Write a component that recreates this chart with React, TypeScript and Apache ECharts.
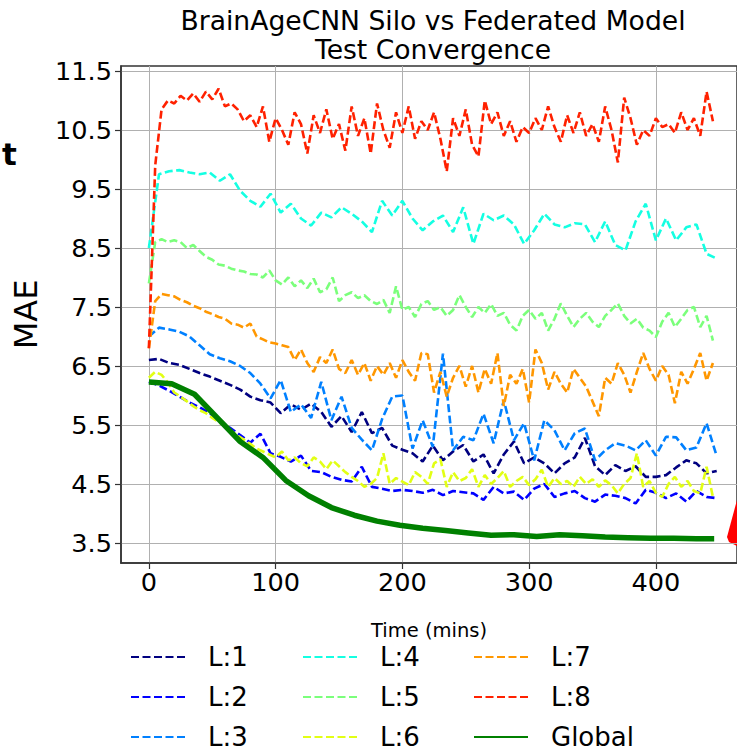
import React, { useEffect, useRef } from "react";
import * as echarts from "echarts";

const TITLE = "BrainAgeCNN Silo vs Federated Model\nTest Convergence";
const X_NAME = "Time (mins)";
const Y_NAME = "MAE";
const X_TICKS = [0, 100, 200, 300, 400];
const Y_TICKS = [3.5, 4.5, 5.5, 6.5, 7.5, 8.5, 9.5, 10.5, 11.5];

// sampling times (minutes)
const T5 = Array.from({ length: 90 }, (_, i) => i * 5);
const T8 = Array.from({ length: 57 }, (_, i) => i * 8);

const L1 = [6.6, 6.62, 6.55, 6.52, 6.45, 6.38, 6.32, 6.25, 6.18, 6.1,
  5.98, 5.92, 5.88, 5.7, 5.85, 5.76, 5.86, 5.72, 5.47, 5.65,
  5.38, 5.72, 5.36, 5.45, 5.15, 5.08, 5.02, 4.88, 5.15, 4.9,
  5.05, 5.16, 4.88, 5.0, 4.68, 5.0, 5.22, 4.85, 4.95, 4.85,
  4.68, 4.85, 4.95, 5.28, 4.8, 4.65, 4.82, 4.72, 4.8, 4.62,
  4.62, 4.65, 4.78, 4.9, 4.85, 4.68, 4.72];

const L2 = [6.23, 6.17, 6.08, 5.98, 5.88, 5.8, 5.7, 5.57, 5.45, 5.33,
  5.2, 5.35, 5.02, 4.96, 4.88, 4.98, 4.72, 4.7, 4.62, 4.57,
  4.54, 4.79, 4.45, 4.42, 4.38, 4.4, 4.38, 4.35, 4.4, 4.31,
  4.38, 4.36, 4.34, 4.23, 4.45, 4.34, 4.37, 4.23, 4.42, 4.5,
  4.28, 4.34, 4.38, 4.26, 4.2, 4.32, 4.3, 4.26, 4.17, 4.4,
  4.35, 4.26, 4.34, 4.2, 4.38, 4.28, 4.26];

const L3 = [7.0, 7.15, 7.12, 7.08, 7.0, 6.85, 6.7, 6.63, 6.58, 6.5,
  6.38, 6.2, 5.95, 6.26, 5.72, 5.85, 5.62, 6.23, 5.58, 5.98,
  5.45, 5.25, 5.07, 5.6, 5.98, 6.0, 5.1, 5.58, 5.13, 6.71,
  5.07, 5.3, 5.24, 5.69, 5.19, 5.92, 5.24, 5.53, 4.9, 5.58,
  5.41, 5.07, 5.36, 5.44, 4.9, 5.07, 5.19, 5.15, 5.07, 5.24,
  4.98, 5.3, 5.29, 5.07, 5.12, 5.53, 4.97];

const L4 = [8.5, 9.75, 9.8, 9.82, 9.78, 9.75, 9.78, 9.64, 9.75, 9.47,
  9.3, 9.2, 9.42, 9.1, 9.25, 9.0, 8.88, 9.1, 9.02, 9.19,
  9.08, 8.95, 8.77, 9.3, 9.05, 9.3, 9.0, 8.8, 8.95, 9.05,
  8.77, 9.19, 8.57, 9.08, 8.97, 9.05, 8.9, 8.57, 8.8, 9.08,
  8.9, 8.85, 8.92, 8.9, 8.6, 8.95, 8.55, 8.46, 8.95, 9.25,
  8.63, 9.0, 8.63, 8.85, 8.9, 8.4, 8.32];

const L5 = [7.9, 8.6, 8.65, 8.6, 8.63, 8.6, 8.5, 8.55, 8.45, 8.35,
  8.3, 8.22, 8.2, 8.15, 8.12, 8.1, 8.06, 8.05, 8.0, 8.12,
  7.95, 7.88, 8.0, 7.85, 7.95, 7.82, 7.98, 7.75, 7.8, 8.0,
  7.6, 7.7, 7.75, 7.65, 7.7, 7.6, 7.55, 7.62, 7.4, 7.85,
  7.45, 7.5, 7.33, 7.55, 7.6, 7.45, 7.5, 7.35, 7.45, 7.7,
  7.5, 7.33, 7.5, 7.4, 7.55, 7.35, 7.4, 7.2, 7.1, 7.35,
  7.45, 7.3, 7.4, 7.1, 7.3, 7.56, 7.35, 7.16, 7.3, 7.4,
  7.25, 7.16, 7.35, 7.45, 7.56, 7.35, 7.22, 7.3, 7.15, 7.1,
  6.99, 7.25, 7.4, 7.16, 7.3, 7.45, 7.5, 7.16, 7.35, 6.93];

const L6 = [6.3, 6.4, 6.35, 6.22, 6.05, 5.98, 5.9, 5.82, 5.75, 5.7,
  5.62, 5.55, 5.48, 5.4, 5.32, 5.25, 5.18, 5.1, 5.05, 5.0,
  4.95, 5.05, 4.9, 4.95, 4.85, 4.8, 4.95, 4.88, 4.75, 4.9,
  4.8, 4.7, 4.62, 4.55, 4.45, 4.5, 4.6, 5.02, 4.5, 4.6,
  4.54, 4.48, 4.7, 4.62, 4.5, 4.85, 4.92, 4.45, 4.7, 4.55,
  4.6, 4.75, 4.45, 4.65, 4.5, 4.6, 4.72, 4.45, 4.55, 4.62,
  4.48, 4.58, 4.74, 4.45, 4.6, 4.5, 4.55, 4.45, 4.62, 4.5,
  4.58, 4.45, 4.56, 4.48, 4.34, 4.5, 4.6, 5.02, 4.45, 4.55,
  4.35, 4.28, 4.5, 4.62, 4.45, 4.55, 4.38, 4.34, 4.79, 4.28];

const L7 = [6.8, 7.6, 7.72, 7.7, 7.68, 7.62, 7.58, 7.52, 7.48, 7.42,
  7.38, 7.33, 7.3, 7.22, 7.2, 7.15, 7.22, 7.0, 6.95, 6.9,
  6.88, 6.85, 6.82, 6.6, 6.78, 6.55, 6.4, 6.65, 6.55, 6.78,
  6.45, 6.38, 6.6, 6.35, 6.55, 6.25, 6.5, 6.35, 6.55, 6.3,
  6.6, 6.4, 6.25, 6.72, 6.7, 6.05, 6.4, 5.98, 6.3, 6.5,
  6.15, 6.5, 6.05, 6.45, 6.2, 6.72, 5.82, 6.35, 6.2, 6.45,
  5.88, 6.78, 6.55, 6.1, 6.4, 6.2, 6.05, 6.45, 6.3, 6.15,
  5.9, 5.65, 6.3, 6.2, 6.55, 6.35, 6.05, 6.4, 6.72, 6.45,
  6.25, 6.5, 6.35, 5.87, 6.4, 6.2, 6.45, 6.72, 6.25, 6.55];

const L8 = [6.8, 9.9, 10.85, 11.0, 10.95, 11.08, 11.0, 11.12, 10.98, 11.15,
  11.02, 11.2, 10.9, 10.95, 10.85, 10.65, 10.75, 10.55, 10.9, 10.3,
  10.7, 10.5, 10.25, 10.8, 10.6, 10.1, 10.75, 10.45, 10.85, 10.35,
  10.6, 10.15, 10.9, 10.4, 10.7, 10.1, 10.95, 10.5, 10.2, 10.8,
  10.45, 10.9, 10.35, 10.65, 10.5, 10.8, 10.35, 9.8, 10.7, 10.4,
  10.85, 10.25, 10.05, 11.0, 10.6, 10.8, 10.4, 10.65, 10.3, 10.55,
  10.45, 10.7, 10.5, 10.9, 10.55, 10.3, 10.75, 10.45, 10.8, 10.4,
  10.6, 10.3, 10.9, 10.5, 9.95, 11.05, 10.7, 10.25, 10.5, 10.4,
  10.7, 10.55, 10.6, 10.45, 10.8, 10.5, 10.7, 10.4, 11.15, 10.65];

const GLOBAL_T = [0, 18, 36, 54, 72, 90, 108, 126, 144, 162, 180, 198, 216,
  234, 252, 270, 288, 306, 324, 342, 360, 378, 396, 414, 432, 446];
const GLOBAL = [6.23, 6.2, 6.02, 5.62, 5.22, 4.95, 4.56, 4.3, 4.1, 3.97, 3.87,
  3.8, 3.75, 3.71, 3.67, 3.63, 3.64, 3.61, 3.64, 3.62, 3.6, 3.59, 3.58, 3.58,
  3.57, 3.57];

const NAMES = ["L:1", "L:2", "L:3", "L:4", "L:5", "L:6", "L:7", "L:8"];
const COLORS = ["#000080", "#0000ff", "#0080ff", "#14ffe2", "#7bff7b",
  "#e2ff14", "#ff9700", "#ff2100"];
const GLOBAL_NAME = "Global";
const GLOBAL_COLOR = "#008000";

const FONT = "DejaVu Sans";

function zip(t: number[], v: number[]) {
  return v.map((y, i) => [t[i], y]);
}

export default function App() {
  const ref = useRef<HTMLDivElement>(null);
  useEffect(() => {
    if (!ref.current) return;
    const chart = echarts.init(ref.current, undefined, { renderer: "svg" });
    const silo = [
      zip(T8, L1), zip(T8, L2), zip(T8, L3), zip(T8, L4),
      zip(T5, L5), zip(T5, L6), zip(T5, L7), zip(T5, L8),
    ];
    const series: any[] = silo.map((d, i) => ({
      name: NAMES[i],
      type: "line",
      data: d,
      symbol: "none",
      showSymbol: false,
      color: COLORS[i],
      lineStyle: { color: COLORS[i], width: 2.6, type: [8, 3.5] },
      z: 2 + i,
    }));
    series.push({
      name: GLOBAL_NAME,
      type: "line",
      data: zip(GLOBAL_T, GLOBAL),
      symbol: "none",
      showSymbol: false,
      color: GLOBAL_COLOR,
      lineStyle: { color: GLOBAL_COLOR, width: 5.5, type: "solid" },
      z: 20,
    });

    const legendBase = {
      orient: "vertical",
      top: 639,
      height: 130,
      itemGap: 14,
      itemWidth: 54,
      itemHeight: 14,
      selectedMode: false,
      itemStyle: { opacity: 0, borderWidth: 0 },
      textStyle: {
        fontSize: 26,
        lineHeight: 24,
        color: "#000",
        fontFamily: FONT,
        padding: [0, 0, 0, 18],
      },
    };

    chart.setOption({
      animation: false,
      backgroundColor: "#fff",
      title: {
        text: TITLE,
        left: 428,
        top: 1,
        textAlign: "center",
        textStyle: {
          fontSize: 26.6,
          lineHeight: 29,
          fontWeight: "normal",
          color: "#000",
          fontFamily: FONT,
        },
      },
      grid: {
        left: 121,
        top: 66,
        width: 622,
        height: 497,
        show: true,
        borderColor: "#333",
        borderWidth: 1.5,
        backgroundColor: "transparent",
      },
      legend: [
        { ...legendBase, left: 125, data: [NAMES[0], NAMES[1], NAMES[2]] },
        { ...legendBase, left: 297, data: [NAMES[3], NAMES[4], NAMES[5]] },
        { ...legendBase, left: 468, data: [NAMES[6], NAMES[7], GLOBAL_NAME] },
      ],
      xAxis: {
        type: "value",
        min: -22,
        max: 464,
        name: X_NAME,
        nameLocation: "middle",
        nameGap: 57,
        nameTextStyle: { fontSize: 19.5, color: "#000", fontFamily: FONT },
        axisLine: { show: true, onZero: false, lineStyle: { color: "#333", width: 1.5 } },
        axisTick: { show: true, customValues: X_TICKS, length: 6, lineStyle: { color: "#333", width: 1.2 } },
        axisLabel: { customValues: X_TICKS, fontSize: 25.6, color: "#000", fontFamily: FONT, margin: 6 },
        splitLine: { show: true, lineStyle: { color: "#b0b0b0", width: 1 } },
      },
      yAxis: {
        type: "value",
        min: 3.16,
        max: 11.585,
        name: Y_NAME,
        nameLocation: "middle",
        nameGap: 79,
        nameTextStyle: { fontSize: 32, color: "#000", fontFamily: FONT },
        axisLine: { show: true, onZero: false, lineStyle: { color: "#333", width: 1.5 } },
        axisTick: { show: true, customValues: Y_TICKS, length: 6, lineStyle: { color: "#333", width: 1.2 } },
        axisLabel: {
          customValues: Y_TICKS,
          fontSize: 25.6,
          color: "#000",
          fontFamily: FONT,
          margin: 9,
          formatter: (v: number) => v.toFixed(1),
        },
        splitLine: { show: true, lineStyle: { color: "#b0b0b0", width: 1 } },
      },
      graphic: [
        {
          type: "text",
          x: 2,
          y: 154,
          style: {
            text: "t",
            fill: "#000",
            font: "bold 31px 'DejaVu Sans'",
            verticalAlign: "middle",
            align: "left",
          },
        },
        {
          type: "polygon",
          shape: { points: [[737, 500], [727, 537], [729, 542], [737, 546]] },
          style: { fill: "#ff0000" },
        },
      ],
      series,
    });
    return () => chart.dispose();
  }, []);
  return (
    <div
      ref={ref}
      style={{ position: "absolute", left: 0, top: 0, width: 737, height: 751 }}
    />
  );
}
